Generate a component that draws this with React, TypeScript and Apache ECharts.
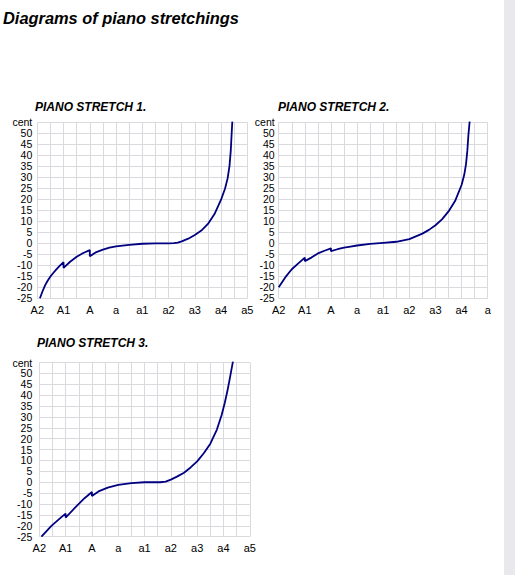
import React, { useEffect, useRef } from "react";
import * as echarts from "echarts";

const mainTitle = "Diagrams of piano stretchings";
const chartTitles = ["PIANO STRETCH 1.", "PIANO STRETCH 2.", "PIANO STRETCH 3."];
const xLabels = ["A2", "A1", "A", "a", "a1", "a2", "a3", "a4", "a5"];
const xLabels2 = ["A2", "A1", "A", "a", "a1", "a2", "a3", "a4", "a"];
const yTopLabel = "cent";
const yMin = -25;
const yMax = 55;
const yStep = 5;

const stretch1: [number, number][] = [
  [0.1, -25], [0.2, -21.8], [0.3, -19], [0.4, -16.9], [0.5, -15.1], [0.6, -13.6],
  [0.7, -12.2], [0.85, -10.3], [1.0, -8.6], [1.0, -11.2], [1.25, -8.4], [1.5, -6.1],
  [1.75, -4.4], [2.0, -3.1], [2.0, -5.9], [2.25, -4.0], [2.5, -2.9], [2.75, -2.0],
  [3.0, -1.4], [3.5, -0.7], [4.0, -0.2], [4.5, 0], [5.0, 0], [5.2, 0.05],
  [5.35, 0.35], [5.5, 0.9], [5.75, 2.1], [6.0, 3.8], [6.25, 5.8], [6.5, 8.8], [6.75, 13.3],
  [7.0, 19.8], [7.15, 24.8], [7.25, 29.5], [7.32, 35], [7.37, 42], [7.4, 49], [7.43, 55.5],
];

const stretch2: [number, number][] = [
  [0, -20], [0.25, -15.5], [0.5, -11.8], [0.75, -9.1], [1.0, -6.5], [1.0, -8.1],
  [1.25, -6.5], [1.5, -4.6], [1.75, -3.4], [2.0, -2.3], [2.0, -3.6], [2.25, -2.7],
  [2.5, -2.0], [2.75, -1.5], [3.0, -1.0], [3.5, -0.3], [4.0, 0.2], [4.5, 0.7],
  [5.0, 1.9], [5.5, 4.4], [5.75, 6.1], [6.0, 8.2], [6.25, 10.9], [6.5, 14.5],
  [6.75, 19.2], [7.0, 26.5], [7.1, 31], [7.17, 36], [7.22, 42], [7.26, 49], [7.31, 55.5],
];

const stretch3: [number, number][] = [
  [0.08, -25], [0.46, -20], [0.84, -16], [1.0, -14.4], [1.0, -16.2], [1.35, -11.8],
  [1.73, -7.2], [2.0, -4.5], [2.0, -6.3], [2.25, -4.2], [2.6, -2.5], [3.0, -1.2],
  [3.5, -0.4], [4.0, 0], [4.6, 0], [4.8, 0.3], [5.0, 1.2], [5.25, 2.7], [5.5, 4.4],
  [5.75, 6.8], [6.0, 9.6], [6.25, 13.3], [6.5, 17.7], [6.75, 24.2], [6.93, 30.9],
  [7.05, 36.5], [7.15, 42], [7.25, 48.3], [7.36, 55.5],
];

const FONT = "'Liberation Sans', Arial, Helvetica, sans-serif";
const GRID_COLOR = "#d9d9de";
const LINE_COLOR = "#000080";

export default function App() {
  const ref = useRef<HTMLDivElement>(null);

  useEffect(() => {
    if (!ref.current) return;
    const chart = echarts.init(ref.current, undefined, { renderer: "svg" });

    const grids = [
      { left: 37.3, top: 122.3, width: 210, height: 176 },
      { left: 278.7, top: 122.3, width: 209, height: 176 },
      { left: 39.3, top: 362.5, width: 210.5, height: 174.2 },
    ];
    const labelSets = [xLabels, xLabels2, xLabels];
    const yMargins = [5, 4, 7];
    const dataSets = [stretch1, stretch2, stretch3];

    const xAxes = grids.map((_, i) => ({
      type: "value",
      gridIndex: i,
      min: 0,
      max: 8,
      interval: 1,
      axisLine: { show: false },
      axisTick: { show: false },
      minorTick: { show: false, splitNumber: 2 },
      splitLine: { show: true, lineStyle: { color: GRID_COLOR, width: 1 } },
      minorSplitLine: { show: true, lineStyle: { color: GRID_COLOR, width: 1 } },
      axisLabel: {
        margin: 6,
        color: "#000",
        fontSize: 11,
        fontFamily: FONT,
        showMinLabel: true,
        showMaxLabel: true,
        formatter: (v: number) => labelSets[i][Math.round(v)] ?? "",
      },
    }));

    const yAxes = grids.map((_, i) => ({
      type: "value",
      gridIndex: i,
      min: yMin,
      max: yMax,
      interval: yStep,
      axisLine: { show: false },
      axisTick: { show: false },
      splitLine: { show: true, lineStyle: { color: GRID_COLOR, width: 1 } },
      axisLabel: {
        margin: yMargins[i],
        color: "#000",
        fontSize: 10.5,
        fontFamily: FONT,
        formatter: (v: number) => (v === yMax ? yTopLabel : String(v)),
      },
    }));

    const series = dataSets.map((d, i) => ({
      type: "line",
      xAxisIndex: i,
      yAxisIndex: i,
      data: d,
      showSymbol: false,
      symbol: "none",
      smooth: false,
      clip: true,
      lineStyle: { color: LINE_COLOR, width: 1.8 },
    }));

    const titlePos = [
      { left: 35, top: 100.5 },
      { left: 278, top: 100.5 },
      { left: 37, top: 337 },
    ];

    chart.setOption({
      animation: false,
      backgroundColor: "#ffffff",
      title: [
        {
          text: mainTitle,
          left: 3,
          top: 10,
          padding: 0,
          textStyle: {
            fontSize: 16.4,
            fontWeight: "bold",
            fontStyle: "italic",
            fontFamily: FONT,
            color: "#000",
          },
        },
        ...chartTitles.map((t, i) => ({
          text: t,
          left: titlePos[i].left,
          top: titlePos[i].top,
          padding: 0,
          textStyle: {
            fontSize: 12,
            fontWeight: "bold",
            fontStyle: "italic",
            fontFamily: FONT,
            color: "#000",
          },
        })),
      ],
      graphic: [
        {
          type: "rect",
          shape: { x: 504, y: 0, width: 11, height: 575 },
          style: { fill: "#e9e9ed" },
          silent: true,
        },
      ],
      grid: grids,
      xAxis: xAxes,
      yAxis: yAxes,
      series,
    });

    return () => {
      chart.dispose();
    };
  }, []);

  return (
    <div
      ref={ref}
      style={{ position: "absolute", left: 0, top: 0, width: 515, height: 575 }}
    />
  );
}
